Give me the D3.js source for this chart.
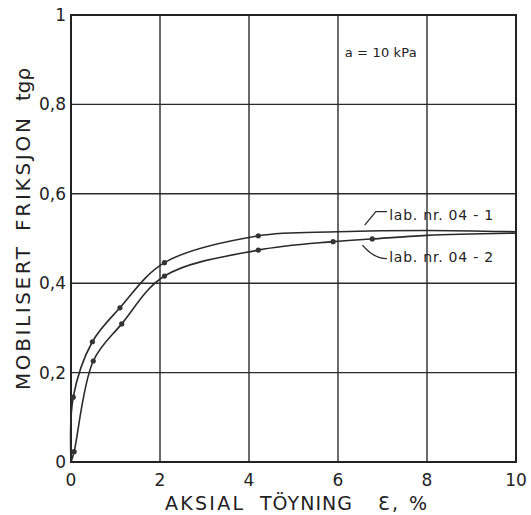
<!DOCTYPE html>
<html>
<head>
<meta charset="utf-8">
<script src="https://cdn.jsdelivr.net/npm/d3@7"></script>
<style>
  body { margin: 0; background: #fff; }
  text { font-family: "DejaVu Sans", sans-serif; fill: #222; }
</style>
</head>
<body>
<div id="chart"></div>
<script>
// measured points (markers)
const lab1X = [0.05, 0.48, 1.10, 2.10, 4.21];
const lab1Y = [0.145, 0.269, 0.345, 0.446, 0.506];
const lab2X = [0.07, 0.50, 1.14, 2.10, 4.21, 5.89, 6.77];
const lab2Y = [0.023, 0.226, 0.309, 0.416, 0.474, 0.493, 0.499];
// fitted curves as drawn
const curve1X = [0, 0.05, 0.48, 1.10, 2.10, 4.21, 6, 8, 10];
const curve1Y = [0, 0.145, 0.269, 0.345, 0.446, 0.506, 0.515, 0.518, 0.515];
const curve2X = [0, 0.07, 0.50, 1.14, 2.10, 4.21, 5.89, 6.77, 8, 10];
const curve2Y = [0, 0.023, 0.226, 0.309, 0.416, 0.474, 0.493, 0.499, 0.507, 0.512];
const xTicks = [0, 2, 4, 6, 8, 10];
const yTicks = [0, 0.2, 0.4, 0.6, 0.8, 1];
const yTickLabels = ["0", "0,2", "0,4", "0,6", "0,8", "1"];

const W = 531, H = 515;
const margin = {top: 15, right: 15, bottom: 53, left: 71};
const width = W - margin.left - margin.right, height = H - margin.top - margin.bottom;

const svg = d3.select("#chart").append("svg")
  .attr("width", W).attr("height", H);
const g = svg.append("g").attr("transform", `translate(${margin.left},${margin.top})`);

const x = d3.scaleLinear().domain([0, 10]).range([0, width]);
const y = d3.scaleLinear().domain([0, 1]).range([height, 0]);

// grid
g.selectAll(".vg").data(xTicks).join("line")
  .attr("x1", d => x(d)).attr("x2", d => x(d))
  .attr("y1", 0).attr("y2", height)
  .attr("stroke", "#2a2a2a").attr("stroke-width", 1.4);
g.selectAll(".hg").data(yTicks).join("line")
  .attr("x1", 0).attr("x2", width)
  .attr("y1", d => y(d)).attr("y2", d => y(d))
  .attr("stroke", "#2a2a2a").attr("stroke-width", 1.4);
g.append("rect").attr("width", width).attr("height", height)
  .attr("fill", "none").attr("stroke", "#222").attr("stroke-width", 2);

// tick labels
g.selectAll(".xl").data(xTicks).join("text")
  .attr("x", d => x(d)).attr("y", height + 24)
  .attr("text-anchor", "middle").attr("font-size", 17)
  .text(d => d);
g.selectAll(".yl").data(yTicks).join("text")
  .attr("x", -5).attr("y", d => y(d) + 6)
  .attr("text-anchor", "end").attr("font-size", 17)
  .text((d, i) => yTickLabels[i]);

// x title, word by word
[["AKSIAL", 165, 78], ["TÖYNING", 260, 92], ["Ɛ, %", 378, 49]].forEach(([t, px, len]) => {
  svg.append("text").attr("x", px).attr("y", 510).attr("font-size", 19)
    .attr("textLength", len).attr("lengthAdjust", "spacing").text(t);
});
// y title
[["MOBILISERT", 390, 143], ["FRIKSJON", 231, 113], ["tgρ", 101, null]].forEach(([t, py, len]) => {
  const tx = svg.append("text").attr("transform", `translate(30,${py}) rotate(-90)`)
    .attr("font-size", 20).text(t);
  if (len) tx.attr("textLength", len).attr("lengthAdjust", "spacing");
});

// curves
const line = d3.line().x(d => x(d[0])).y(d => y(d[1])).curve(d3.curveCatmullRom.alpha(0.5));
[[curve1X, curve1Y], [curve2X, curve2Y]].forEach(([xs, ys]) => {
  g.append("path").datum(xs.map((v, i) => [v, ys[i]]))
    .attr("d", line).attr("fill", "none")
    .attr("stroke", "#2a2a2a").attr("stroke-width", 1.6);
});
[[lab1X, lab1Y], [lab2X, lab2Y]].forEach(([xs, ys]) => {
  g.selectAll(null).data(xs.map((v, i) => [v, ys[i]])).join("circle")
    .attr("cx", d => x(d[0])).attr("cy", d => y(d[1])).attr("r", 2.6)
    .attr("fill", "#333");
});

// annotations
g.append("text").attr("x", x(6.15)).attr("y", y(0.905))
  .attr("font-size", 13).attr("textLength", 72).attr("lengthAdjust", "spacing")
  .text("a = 10 kPa");

g.append("path").attr("d", `M${x(6.6)},${y(0.53)} L${x(6.85)},${y(0.56)} L${x(7.1)},${y(0.56)}`)
  .attr("fill", "none").attr("stroke", "#2a2a2a").attr("stroke-width", 1.3);
g.append("text").attr("x", x(7.15)).attr("y", y(0.542))
  .attr("font-size", 14).attr("textLength", 104).attr("lengthAdjust", "spacing")
  .text("lab. nr. 04 - 1");

g.append("path").attr("d", `M${x(6.55)},${y(0.485)} Q${x(6.8)},${y(0.455)} ${x(7.1)},${y(0.455)}`)
  .attr("fill", "none").attr("stroke", "#2a2a2a").attr("stroke-width", 1.3);
g.append("text").attr("x", x(7.15)).attr("y", y(0.447))
  .attr("font-size", 14).attr("textLength", 104).attr("lengthAdjust", "spacing")
  .text("lab. nr. 04 - 2");
</script>
</body>
</html>
